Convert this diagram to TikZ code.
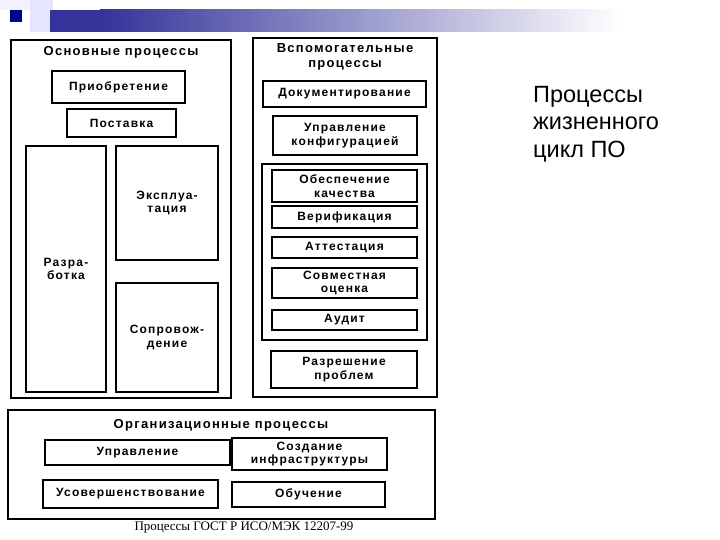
\documentclass[tikz,border=0pt]{standalone}
\usepackage{fontspec}
\setmainfont{Liberation Sans}
\newfontfamily\boxfont[LetterSpace=10]{Liberation Sans}
\newfontfamily\capfont{Liberation Serif}
\begin{document}
\begin{tikzpicture}[x=1pt,y=-1pt,
  outer/.style={draw=black,line width=2pt,inner sep=0pt},
  pbox/.style={draw=black,line width=1.4pt,fill=white,inner sep=1pt,align=center,
     font=\boxfont\bfseries\fontsize{12}{13.5}\selectfont},
  ttl/.style={inner sep=0pt,align=center,font=\boxfont\bfseries\fontsize{13}{15}\selectfont}]
\useasboundingbox (0,0) rectangle (720,540);
\fill[white] (0,0) rectangle (720,540);
% header decoration
\fill[blue!10!white] (30,0) rectangle (53,32);
\fill[blue!5!white] (0,0) rectangle (30,10);
\fill[blue!50!black!80!white] (50,10) rectangle (100,32);
\shade[left color=blue!50!black!80!white,right color=white] (100,10) rectangle (620,32);
\fill[blue!55!black] (10,10) rectangle (22,22);
% main processes
\node[outer,minimum width=220,minimum height=358] (main) at (121,219) {};
\node[ttl] (maint) at (121,52) {Основные процессы};
\node[pbox,minimum width=133,minimum height=32] (acq) at (118.5,87) {Приобретение};
\node[pbox,minimum width=109,minimum height=28] (sup) at (121.5,123) {Поставка};
\node[pbox,minimum width=80,minimum height=246] (dev) at (66,269) {Разра-\\ботка};
\node[pbox,minimum width=102,minimum height=114] (opr) at (167,203) {Эксплуа-\\тация};
\node[pbox,minimum width=102,minimum height=109] (mnt) at (167,337.5) {Сопровож-\\дение};
% supporting processes
\node[outer,minimum width=184,minimum height=359] (aux) at (345,217.5) {};
\node[ttl] (auxt) at (345,57) {Вспомогательные\\процессы};
\node[pbox,minimum width=163,minimum height=26] (doc) at (344.5,94) {Документирование};
\node[pbox,minimum width=144,minimum height=39] (cfg) at (345,135.5) {Управление\\конфигурацией};
\node[draw=black,line width=1.4pt,minimum width=165,minimum height=176] (grp) at (344.5,252) {};
\node[pbox,minimum width=145,minimum height=32] (qa) at (344.5,186) {Обеспечение\\качества};
\node[pbox,minimum width=145,minimum height=22] (ver) at (344.5,217) {Верификация};
\node[pbox,minimum width=145,minimum height=21] (att) at (344.5,247.5) {Аттестация};
\node[pbox,minimum width=145,minimum height=30] (jnt) at (344.5,283) {Совместная\\оценка};
\node[pbox,minimum width=145,minimum height=20] (aud) at (344.5,320) {Аудит};
\node[pbox,minimum width=146,minimum height=37] (prb) at (344,369.5) {Разрешение\\проблем};
% organizational processes
\node[outer,minimum width=427,minimum height=109] (org) at (221.5,464.5) {};
\node[ttl] (orgt) at (221,425) {Организационные процессы};
\node[pbox,minimum width=185,minimum height=25] (mgm) at (137.5,452.5) {Управление};
\node[pbox,minimum width=155,minimum height=32] (inf) at (309.5,454) {Создание\\инфраструктуры};
\node[pbox,minimum width=175,minimum height=28] (imp) at (130.5,494) {Усовершенствование};
\node[pbox,minimum width=153,minimum height=25] (edu) at (308.5,494.5) {Обучение};
% caption
\node[inner sep=0pt,font=\capfont\fontsize{13}{15}\selectfont] (cap) at (244,528) {Процессы ГОСТ Р ИСО/МЭК 12207-99};
% side title
\node[inner sep=0pt,anchor=north west,align=left,font=\fontsize{23.5}{27.5}\selectfont] (side) at (533,86) {Процессы\\жизненного\\цикл ПО};
\end{tikzpicture}
\end{document}
